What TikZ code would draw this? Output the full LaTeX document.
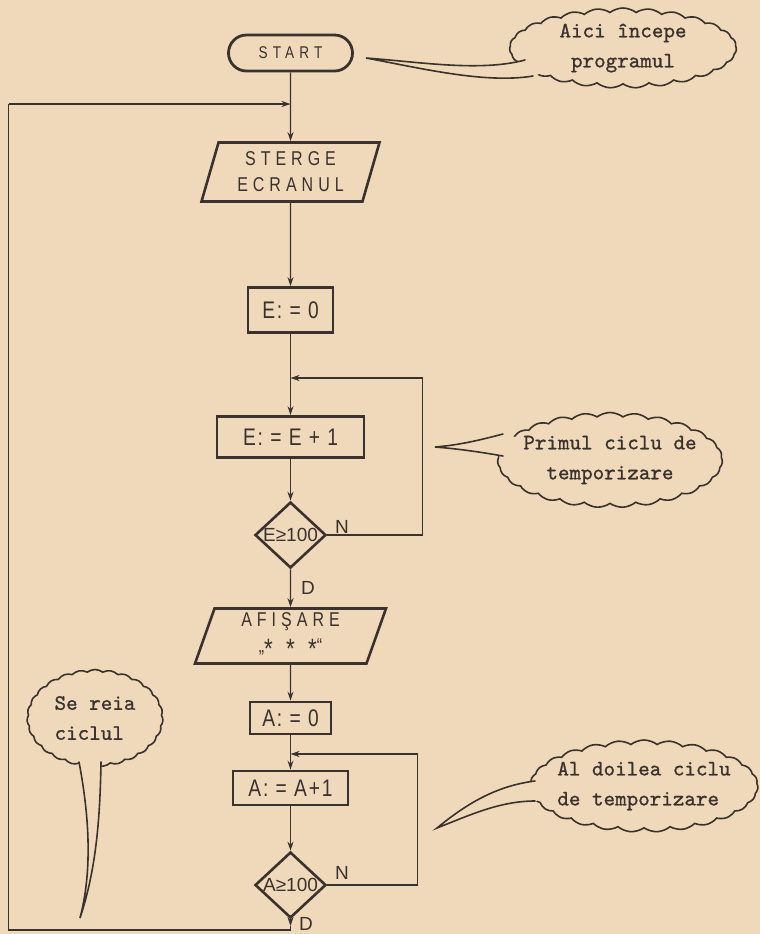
\documentclass[tikz,border=0pt]{standalone}
\usepackage{fontspec}
\usepackage{tikz}
\usetikzlibrary{arrows.meta,shapes.geometric,shapes.symbols,calc}
\newfontfamily\boxfont[FakeStretch=0.8,LetterSpace=8]{Liberation Sans}
\newfontfamily\testfont{Liberation Sans}
\newfontfamily\notefont[FakeBold=1]{lmmono10-regular.otf}
\definecolor{paper}{RGB}{240,217,186}
\definecolor{ink}{RGB}{58,50,46}
\tikzset{
	flow/.style={draw=ink, line width=0.7pt, -{Stealth[length=4.5pt,width=3pt]}},
	wire/.style={draw=ink, line width=0.7pt},
	opbox/.style={rectangle, draw=ink, line width=1.4pt, inner sep=0pt, text=ink, font=\boxfont\fontsize{12}{14}\selectfont},
	iobox/.style={trapezium, trapezium left angle=67, trapezium right angle=113, trapezium stretches body, draw=ink, line width=1.3pt, inner sep=0pt, text=ink, align=center, font=\boxfont\addfontfeature{LetterSpace=25}\fontsize{10}{13}\selectfont},
	test/.style={diamond, draw=ink, line width=1.3pt, inner sep=0pt, minimum width=35.5pt, minimum height=33pt},
	testtext/.style={text=ink, font=\testfont\fontsize{9.5}{10}\selectfont},
	note/.style={cloud, cloud puffs=27, cloud puff arc=75, cloud ignores aspect, draw=ink, fill=paper, line width=0.8pt, inner sep=0pt},
	notetext/.style={text=ink, font=\notefont\fontsize{11}{15}\selectfont},
	tail/.style={draw=ink, line width=0.8pt, line cap=round}
}
% tail of a note: cloud, first base, controls, tip, controls, second base
\newcommand{\noteTail}[6]{
	\fill[paper] #2 .. controls #3 .. (#4) .. controls #5 .. #6 -- (#1.center) -- cycle;
	\draw[tail] #2 .. controls #3 .. (#4) .. controls #5 .. #6;
}
\begin{document}
\begin{tikzpicture}[x=0.5pt, y=-0.5pt]
	\useasboundingbox (0,0) rectangle (760,934);
	\fill[paper] (0,0) rectangle (760,934);

	% the chart
	\node[opbox, rounded corners=9pt, minimum width=62pt, minimum height=18pt, font=\boxfont\addfontfeature{LetterSpace=30}\fontsize{8.5}{9}\selectfont] (start) at (290.5,53) {START};
	\node[iobox, minimum width=89pt, minimum height=29.5pt] (sterge) at (290.5,172) {STERGE\\ECRANUL};
	\node[opbox, minimum width=42.5pt, minimum height=22.5pt] (e0) at (290.5,310) {E: = 0};
	\node[opbox, minimum width=73.5pt, minimum height=20.5pt] (e1) at (290.5,437) {E: = E + 1};
	\node[test, label={[testtext]center:E≥100}] (de) at (290.5,535) {};
	\node[iobox, minimum width=95.5pt, minimum height=27.5pt] (afis) at (290.5,636) {AFIŞARE\\„\raisebox{-0.3em}{\fontsize{14}{13}\selectfont* * *}“};
	\node[opbox, minimum width=40.5pt, minimum height=16pt] (a0) at (290.5,718) {A: = 0};
	\node[opbox, minimum width=57.5pt, minimum height=17pt] (a1) at (290.5,788) {A: = A+1};
	\node[test, label={[testtext]center:A≥100}] (da) at (290.5,885) {};

	\node[testtext] (nE) at (342,527) {N};
	\node[testtext] (dE) at (308,588) {D};
	\node[testtext] (nA) at (342,873) {N};
	\node[testtext] (dA) at (306,924) {D};

	\draw[flow] (start.south) -- (sterge.north);
	\draw[flow] (sterge.south) -- (e0.north);
	\draw[flow] (e0.south) -- (e1.north);
	\draw[flow] (e1.south) -- (de.north);
	\draw[flow] (de.south) -- (afis.north);
	\draw[flow] (afis.south) -- (a0.north);
	\draw[flow] (a0.south) -- (a1.north);
	\draw[flow] (a1.south) -- (da.north);

	% loops
	\coordinate (l1) at (422.5,378);
	\coordinate (l2) at (417.5,754);
	\draw[flow] (de.east) -| (l1) -- (l1 -| e1.north);
	\draw[flow] (da.east) -| (l2) -- (l2 -| a1.north);
	\coordinate (back) at (290.5,926);
	\coordinate (corner) at (8.5,930);
	\coordinate (top) at (8.5,104);
	\draw[flow] (da.south) -- (back);
	\draw[wire] (back) -- (back |- corner) -- (corner) -- (top);
	\draw[flow] (top) -- (top -| start.south);

	% notes
	\node[note, minimum width=113.5pt, minimum height=40pt] (aici) at (623,48) {};
	\node[note, minimum width=112.5pt, minimum height=47.5pt] (prim) at (610,460) {};
	\node[note, minimum width=114pt, minimum height=46pt] (doi) at (644,786) {};
	\node[note, minimum width=68pt, minimum height=48.5pt] (reia) at (95,718) {};
	\coordinate (t1) at (366,58);
	\coordinate (t2) at (435,447);
	\coordinate (t3) at (437,828);
	\coordinate (t4) at (80,918);
	\noteTail{aici}{(525,60)}{(480,72) and (420,62)}{t1}{(420,68) and (485,84)}{(533,76)}
	\noteTail{prim}{(503,434)}{(480,440) and (460,445)}{t2}{(460,449) and (480,452)}{(503,456)}
	\noteTail{doi}{(535,781)}{(495,786) and (465,805)}{t3}{(470,815) and (500,801)}{(535,801)}
	\noteTail{reia}{(79,762)}{(92,830) and (90,880)}{t4}{(96,870) and (100,820)}{(101,762)}
	\node[notetext, align=center] (aicitxt) at (aici.center) {Aici începe\\programul};
	\node[notetext, align=center] (primtxt) at (prim.center) {Primul ciclu de\\temporizare};
	\node[notetext, align=left] (doitxt) at (doi.center) {Al doilea ciclu\\de temporizare};
	\node[notetext, align=left] (reiatxt) at (reia.center) {Se reia\\ciclul};
\end{tikzpicture}
\end{document}
